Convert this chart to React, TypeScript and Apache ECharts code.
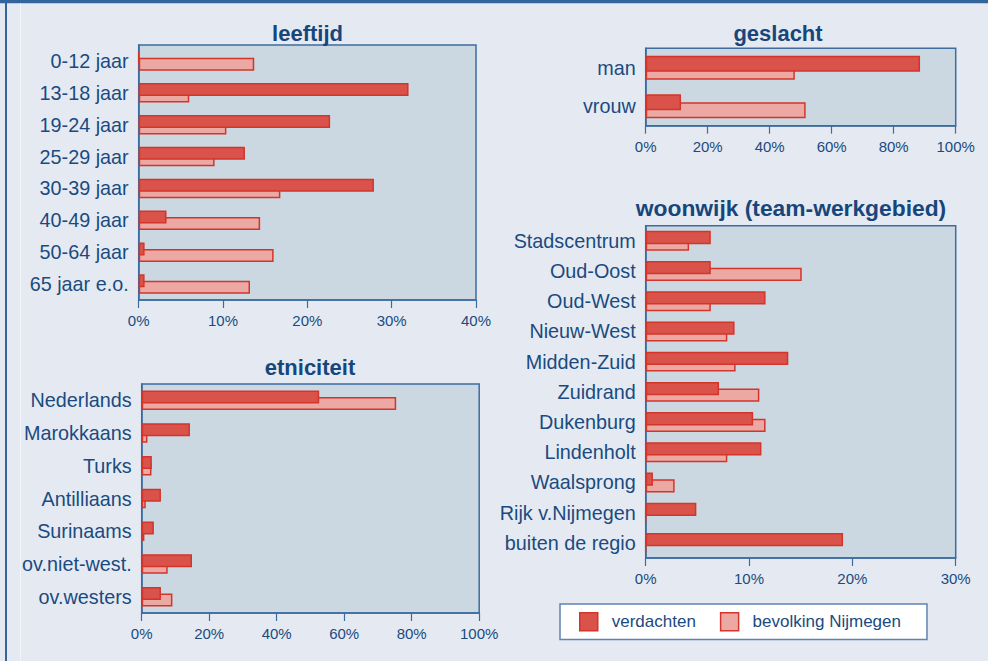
import React, { useEffect, useRef } from "react";
import * as echarts from "echarts";

const seriesNames = ["verdachten", "bevolking Nijmegen"];

const leeftijdCats = ["0-12 jaar", "13-18 jaar", "19-24 jaar", "25-29 jaar", "30-39 jaar", "40-49 jaar", "50-64 jaar", "65 jaar e.o."];
const leeftijdVerd = [0, 32.0, 22.7, 12.6, 27.9, 3.3, 0.7, 0.7];
const leeftijdBev = [13.7, 6.0, 10.4, 9.0, 16.8, 14.4, 16.0, 13.2];

const geslachtCats = ["man", "vrouw"];
const geslachtVerd = [88.5, 11.4];
const geslachtBev = [48.1, 51.6];

const etnCats = ["Nederlands", "Marokkaans", "Turks", "Antilliaans", "Surinaams", "ov.niet-west.", "ov.westers"];
const etnVerd = [52.6, 14.3, 3.0, 5.7, 3.6, 14.9, 5.7];
const etnBev = [75.4, 1.7, 2.9, 1.2, 0.8, 7.7, 9.1];

const wijkCats = ["Stadscentrum", "Oud-Oost", "Oud-West", "Nieuw-West", "Midden-Zuid", "Zuidrand", "Dukenburg", "Lindenholt", "Waalsprong", "Rijk v.Nijmegen", "buiten de regio"];
const wijkVerd = [6.3, 6.3, 11.6, 8.6, 13.8, 7.1, 10.4, 11.2, 0.7, 4.9, 19.1];
const wijkBev = [4.2, 15.1, 6.3, 7.9, 8.7, 11.0, 11.6, 7.9, 2.8, 0, 0];

const titles = ["leeftijd", "geslacht", "woonwijk (team-werkgebied)", "etniciteit"];

const FONT = "'Liberation Sans', Arial, sans-serif";
const TEXT = "#1a4a80";
const FRAME = "#3d6c9f";
const VERD = "#d9534a";
const BEV = "#eca9a4";
const EDGE = "#d3352b";

export default function App() {
  const ref = useRef<HTMLDivElement>(null);

  useEffect(() => {
    if (!ref.current) return;
    const chart = echarts.init(ref.current, undefined, { renderer: "svg" });

    const panels = [
      { cats: leeftijdCats, verd: leeftijdVerd, bev: leeftijdBev, max: 40, interval: 10, grid: { left: 138.7, top: 45, width: 337.3, height: 255 }, bw: 13 },
      { cats: geslachtCats, verd: geslachtVerd, bev: geslachtBev, max: 100, interval: 20, grid: { left: 645.7, top: 48.3, width: 310, height: 77.4 }, bw: 16 },
      { cats: wijkCats, verd: wijkVerd, bev: wijkBev, max: 30, interval: 10, grid: { left: 645.7, top: 225.7, width: 310, height: 332.3 }, bw: 13.3 },
      { cats: etnCats, verd: etnVerd, bev: etnBev, max: 100, interval: 20, grid: { left: 141.7, top: 384, width: 337.5, height: 229 }, bw: 13 },
    ];

    const grids = panels.map((p) => ({
      ...p.grid,
      show: true,
      backgroundColor: "#cbd8e2",
      borderColor: FRAME,
      borderWidth: 1.5,
      containLabel: false,
    }));

    const xAxes = panels.map((p, i) => ({
      type: "value",
      gridIndex: i,
      min: 0,
      max: p.max,
      interval: p.interval,
      splitLine: { show: false },
      axisLine: { show: true, lineStyle: { color: FRAME, width: 1.5 } },
      axisTick: { show: true, length: 8, lineStyle: { color: FRAME, width: 1.2 } },
      axisLabel: { formatter: "{value}%", color: TEXT, fontSize: 15, fontFamily: FONT, margin: 13 },
    }));

    const yAxes = panels.map((p, i) => ({
      type: "category",
      gridIndex: i,
      data: p.cats,
      inverse: true,
      axisLine: { show: true, lineStyle: { color: FRAME, width: 1.5 } },
      axisTick: { show: false },
      axisLabel: { color: TEXT, fontSize: 19.8, fontFamily: FONT, margin: 10 },
    }));

    const series: any[] = [];
    panels.forEach((p, i) => {
      series.push({
        type: "bar",
        name: seriesNames[0],
        xAxisIndex: i,
        yAxisIndex: i,
        data: p.verd,
        barWidth: p.bw,
        barGap: "-50%",
        z: 3,
        itemStyle: { color: VERD, borderColor: EDGE, borderWidth: 1.5 },
      });
      series.push({
        type: "bar",
        name: seriesNames[1],
        xAxisIndex: i,
        yAxisIndex: i,
        data: p.bev,
        barWidth: p.bw,
        barGap: "-50%",
        z: 2,
        itemStyle: { color: BEV, borderColor: EDGE, borderWidth: 1.5 },
      });
    });

    const titlePos = [
      [307.5, 33],
      [778, 33],
      [791, 208],
      [310, 367],
    ];

    chart.setOption({
      animation: false,
      backgroundColor: "#e5eaf2",
      grid: grids,
      xAxis: xAxes,
      yAxis: yAxes,
      series,
      legend: {
        data: seriesNames,
        left: 560,
        top: 604,
        orient: "horizontal",
        icon: "rect",
        itemWidth: 18,
        itemHeight: 18,
        itemGap: 24,
        padding: [8, 26, 8, 19],
        backgroundColor: "#ffffff",
        borderColor: "#5d84b2",
        borderWidth: 1.5,
        borderRadius: 0,
        selectedMode: false,
        itemStyle: { borderColor: EDGE, borderWidth: 1.5 },
        textStyle: { color: TEXT, fontSize: 17, fontFamily: FONT, padding: [0, 0, 0, 9] },
      },
      graphic: [
        { type: "rect", shape: { x: 0, y: 0, width: 988, height: 3.3 }, style: { fill: "#34659a" }, silent: true },
        { type: "rect", shape: { x: 5, y: 0, width: 2, height: 661 }, style: { fill: "#34659a" }, silent: true },
        { type: "rect", shape: { x: 20, y: 3.3, width: 1, height: 658 }, style: { fill: "#f1f4f8" }, silent: true },
        ...titles.map((t, i) => ({
          type: "text",
          x: titlePos[i][0],
          y: titlePos[i][1],
          style: {
            text: t,
            fill: "#17467c",
            font: `bold ${i === 2 ? 22.8 : 22}px ${FONT}`,
            align: "center",
            verticalAlign: "middle",
          },
          silent: true,
        })),
      ],
    });

    return () => chart.dispose();
  }, []);

  return (
    <div
      ref={ref}
      style={{ position: "fixed", left: 0, top: 0, width: 988, height: 661 }}
    />
  );
}
